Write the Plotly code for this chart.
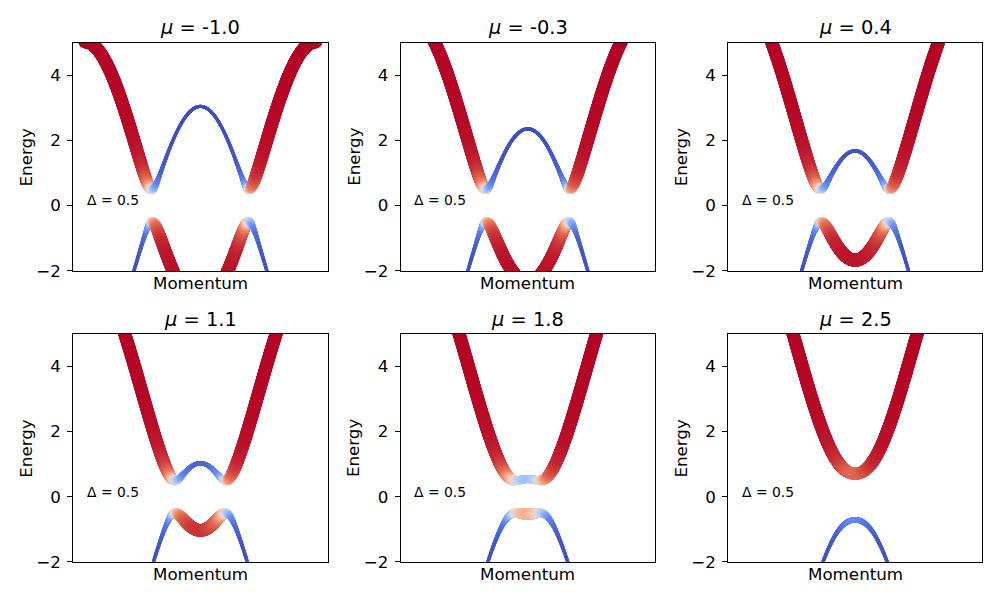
import numpy as np
import plotly.graph_objects as go

# ---- values ----
mu_values = [-1.0, -0.3, 0.4, 1.1, 1.8, 2.5]      # chemical potential per panel
delta_value = 0.5                                  # pairing gap (annotation)
hopping = 2.0                                      # band: xi(k) = 2 t cos k - t - mu
n_k = 1400                                         # momentum samples over [-pi, pi]
y_ticks = [-2, 0, 2, 4]
y_range = [-2, 5]
x_label = "Momentum"
y_label = "Energy"

# matplotlib "coolwarm" colour map
coolwarm = ['#3b4cc0', '#5977e3', '#7b9ff9', '#9ebeff', '#c0d4f5', '#dddcdc',
            '#f2cbb7', '#f7ac8e', '#ee8468', '#d65244', '#b40426']
colorscale = [[i / 10, c] for i, c in enumerate(coolwarm)]

# ---- layout geometry (target pixels in the 1000 x 600 picture) ----
W, H = 1000, 600
FIG_H = 611          # page height the photograph is scaled from
cols = [(73.3, 327.5), (400.7, 654.9), (728.2, 982.0)]
rows = [(42.5, 270.3), (333.3, 561.0)]
FONT = "DejaVu Sans"

k = np.linspace(-np.pi, np.pi, n_k)

fig = go.Figure()
annotations = []
layout = {}

for i, mu in enumerate(mu_values):
    r, c = divmod(i, 3)
    x0, x1 = cols[c]
    y0, y1 = rows[r]
    sfx = "" if i == 0 else str(i + 1)
    xa, ya = "x" + sfx, "y" + sfx

    xi = 2 * hopping * np.cos(k) - hopping - mu
    for band in (1.0, -1.0):
        E = band * np.sqrt(xi ** 2 + delta_value ** 2)
        w = 0.5 * (1.0 - xi / E)
        keep = (E > y_range[0] - 0.4) & (E < y_range[1] + 0.4)
        fig.add_trace(go.Scatter(
            x=k[keep], y=E[keep], mode="markers",
            marker=dict(color=w[keep], colorscale=colorscale, cmin=0, cmax=1,
                        size=np.sqrt(9 + 160 * w[keep]), line=dict(width=0),
                        opacity=1),
            xaxis=xa, yaxis=ya, hoverinfo="skip", showlegend=False,
            cliponaxis=True))

    layout["xaxis" + sfx] = dict(
        domain=[x0 / W, x1 / W], range=[-1.1 * np.pi, 1.1 * np.pi],
        showticklabels=False, ticks="", showgrid=False, zeroline=False,
        showline=True, mirror=True, linecolor="black", linewidth=1.1,
        anchor=ya, fixedrange=True)
    layout["yaxis" + sfx] = dict(
        domain=[1 - y1 / H, 1 - y0 / H], range=y_range, tickvals=y_ticks,
        ticks="outside", ticklen=5, tickwidth=1.1, tickcolor="black",
        tickfont=dict(family=FONT, size=16.7, color="black"),
        showgrid=False, zeroline=False, showline=True, mirror=True,
        linecolor="black", linewidth=1.1, anchor=xa, fixedrange=True,
        ticklabelstandoff=3)

    xc = (x0 + x1) / 2
    annotations.append(dict(
        text=f"<i>μ</i> = {mu}", x=xc / W, y=1 - (y0 - 14.6) / H,
        xref="paper", yref="paper", xanchor="center", yanchor="middle",
        showarrow=False, font=dict(family=FONT, size=19.4, color="black")))
    annotations.append(dict(
        text=x_label, x=xc / W, y=1 - (y1 + 12.2) / H,
        xref="paper", yref="paper", xanchor="center", yanchor="middle",
        showarrow=False, font=dict(family=FONT, size=16.7, color="black")))
    annotations.append(dict(
        text=y_label, x=(x0 - 47.5) / W, y=1 - ((y0 + y1) / 2) / H,
        xref="paper", yref="paper", xanchor="center", yanchor="middle",
        textangle=-90, showarrow=False,
        font=dict(family=FONT, size=16.7, color="black")))
    annotations.append(dict(
        text=f"Δ = {delta_value}", x=(x0 + 11.5) / W, y=1 - (y1 - 70.3) / H,
        xref="paper", yref="paper", xanchor="left", yanchor="middle",
        showarrow=False, font=dict(family=FONT, size=13.9, color="black")))

fig.update_layout(
    width=W, height=FIG_H, margin=dict(l=0, r=0, t=0, b=0),
    paper_bgcolor="white", plot_bgcolor="white",
    annotations=annotations, **layout)

post = (
    "document.documentElement.style.margin='0';"
    "document.body.style.margin='0';"
    "document.body.style.padding='0';"
)
fig.write_html("out.html", config={"displayModeBar": False},
               post_script=post)
